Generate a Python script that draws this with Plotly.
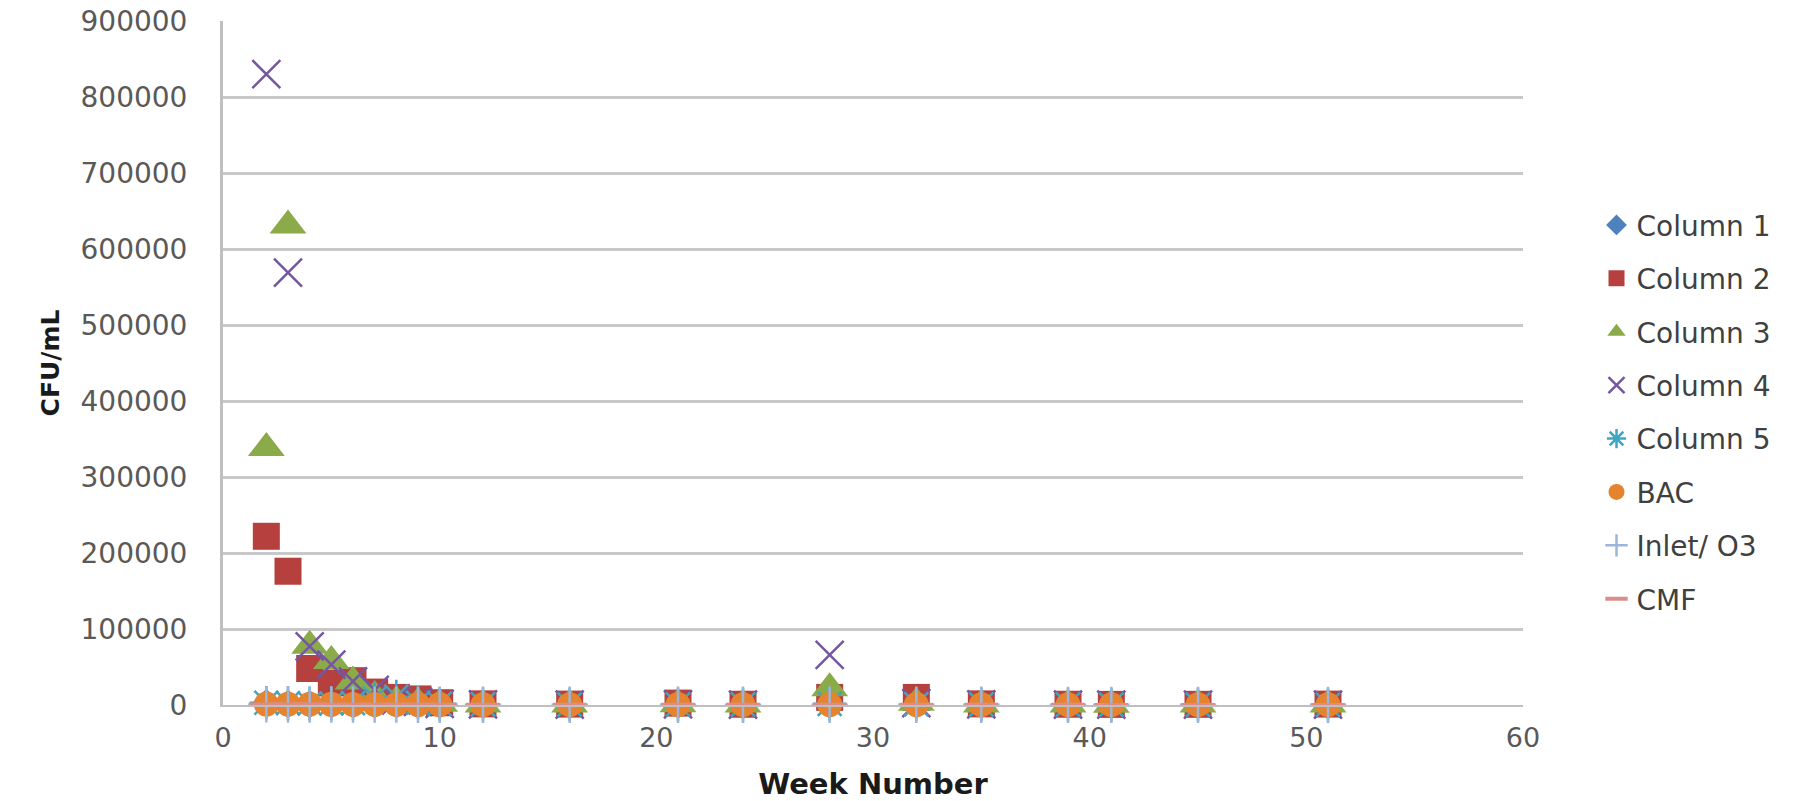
import plotly.graph_objects as go

# Sampling weeks shared by every series
weeks = [2, 3, 4, 5, 6, 7, 8, 9, 10, 12, 16, 21, 24, 28, 32, 35, 39, 41, 45, 51]

# CFU/mL per series
column_1 = [2500, 1500, 1200, 1000, 900, 800, 700, 600, 500, 500, 400, 400, 300, 600, 500, 400, 300, 300, 300, 200]
column_2 = [222000, 176000, 48000, 29000, 32000, 17000, 10000, 8000, 3000, 1500, 1200, 2500, 1000, 10000, 10000, 1500, 1000, 800, 900, 1200]
column_3 = [338000, 631000, 78000, 58000, 31000, 12000, 5000, 3000, 1500, 800, 600, 1000, 500, 22000, 3000, 800, 500, 400, 500, 600]
column_4 = [830000, 569000, 77000, 53000, 31000, 20000, 6000, 4000, 1500, 800, 600, 900, 500, 66000, 2500, 700, 500, 400, 400, 500]
column_5 = [3000, 2500, 2000, 2000, 2500, 9000, 11000, 3000, 1500, 800, 600, 700, 500, 1500, 900, 600, 500, 400, 400, 400]
bac = [1200, 1100, 1000, 900, 800, 800, 700, 600, 500, 400, 400, 500, 400, 600, 500, 400, 300, 300, 300, 300]
inlet_o3 = [800, 700, 700, 600, 600, 500, 500, 400, 400, 300, 300, 300, 300, 400, 300, 300, 200, 200, 200, 200]
cmf = [600, 500, 500, 400, 400, 400, 300, 300, 300, 200, 200, 200, 200, 300, 200, 200, 200, 100, 100, 100]

y_ticks = [0, 100000, 200000, 300000, 400000, 500000, 600000, 700000, 800000, 900000]
x_ticks = [0, 10, 20, 30, 40, 50, 60]

series = [
    ("Column 1", column_1, dict(symbol="diamond", size=22, color="#4F81BD")),
    ("Column 2", column_2, dict(symbol="square", size=27, color="#B5403D")),
    ("Column 3", column_3, dict(symbol="triangle-up", size=32, color="#8BAA4A")),
    ("Column 4", column_4, dict(symbol="x-thin-open", size=28, color="#7557A0",
                                line=dict(width=2.5, color="#7557A0"))),
    ("Column 5", column_5, dict(symbol="asterisk-open", size=28, color="#3FA6C2",
                                line=dict(width=2.5, color="#3FA6C2"))),
    ("BAC", bac, dict(symbol="circle", size=25, color="#E5832F")),
    ("Inlet/ O3", inlet_o3, dict(symbol="cross-thin-open", size=26, color="#9DB5DA",
                                 line=dict(width=2.5, color="#9DB5DA"))),
    ("CMF", cmf, dict(symbol="line-ew-open", size=24, color="#D98E8C",
                      line=dict(width=4, color="#D98E8C"))),
]

fig = go.Figure()
for name, values, marker in series:
    fig.add_trace(go.Scatter(
        x=weeks, y=values, name=name, mode="markers",
        marker=marker, legendgroup=name, cliponaxis=False,
    ))

x_tick_font = dict(family="DejaVu Sans", size=27, color="#595959")
y_tick_font = dict(family="DejaVu Sans", size=28, color="#595959")
x_title_font = dict(family="DejaVu Sans", size=29, color="#1a1a1a", weight="bold")
y_title_font = dict(family="DejaVu Sans", size=25, color="#1a1a1a", weight="bold")

fig.update_layout(
    width=1806, height=801,
    margin=dict(l=223, r=283, t=21, b=96, autoexpand=False),
    paper_bgcolor="white", plot_bgcolor="white",
    showlegend=True,
    legend=dict(
        xref="container", yref="container",
        x=0.884, y=0.750, xanchor="left", yanchor="top",
        font=dict(family="DejaVu Sans", size=28, color="#404040"),
        tracegroupgap=14, itemsizing="trace", maxheight=780,
    ),
    xaxis=dict(
        range=[0, 60], tickvals=x_ticks, ticks="", showgrid=False,
        zeroline=False, showline=True, linecolor="#BFBFBF", linewidth=2,
        tickfont=x_tick_font, ticklabelstandoff=8, automargin=False,
        title=dict(text="Week Number", font=x_title_font, standoff=38),
    ),
    yaxis=dict(
        range=[0, 900000], tickvals=y_ticks, tickformat="d", ticks="",
        showgrid=True, gridcolor="#C8C8C8", gridwidth=2.5,
        zeroline=False, showline=True, linecolor="#BFBFBF", linewidth=3,
        tickfont=y_tick_font, ticklabelstandoff=27, automargin=False,
        title=dict(text="CFU/mL", font=y_title_font, standoff=14),
    ),
)

fig.write_html("out.html")
